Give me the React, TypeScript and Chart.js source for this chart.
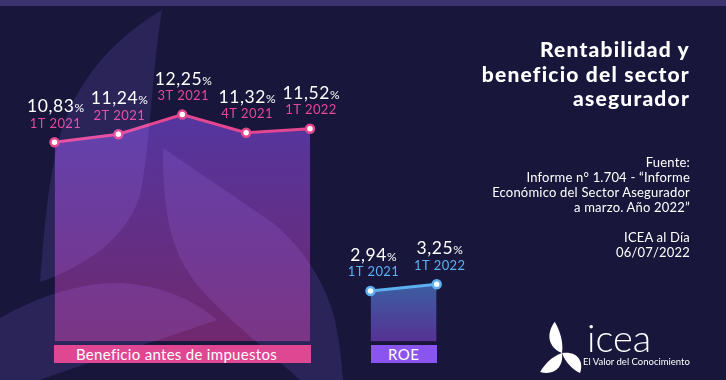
import React, { useEffect, useRef } from "react";
import { Chart, registerables } from "chart.js";

Chart.register(...registerables);

const benefitPeriods = ["1T 2021", "2T 2021", "3T 2021", "4T 2021", "1T 2022"];
const benefitValues = [10.83, 11.24, 12.25, 11.32, 11.52];
const roePeriods = ["1T 2021", "1T 2022"];
const roeValues = [2.94, 3.25];
const benefitLabel = "Beneficio antes de impuestos";
const roeLabel = "ROE";
const titleLines = ["Rentabilidad y", "beneficio del sector", "asegurador"];
const sourceLines = [
  "Fuente:",
  "Informe n° 1.704 - “Informe",
  "Económico del Sector Asegurador",
  "a marzo. Año 2022”",
];
const footerLines = ["ICEA al Día", "06/07/2022"];
const logoWord = "icea";
const logoTagline = "El Valor del Conocimiento";

const FONT = "Lato, 'Open Sans', sans-serif";
const BG = "#18163a";

const valueLabels = {
  id: "valueLabels",
  afterDatasetsDraw(chart: any, _args: any, opts: any) {
    const ctx = chart.ctx as CanvasRenderingContext2D;
    const meta = chart.getDatasetMeta(0);
    const ds = chart.data.datasets[0];
    const labels = chart.data.labels as string[];
    meta.data.forEach((pt: any, i: number) => {
      const v = ds.data[i] as number;
      const num = v.toFixed(2).replace(".", ",");
      ctx.save();
      ctx.textBaseline = "alphabetic";
      ctx.textAlign = "left";
      (ctx as any).letterSpacing = "0.6px";
      ctx.font = `400 17.5px ${FONT}`;
      const w1 = ctx.measureText(num).width;
      (ctx as any).letterSpacing = "0px";
      ctx.font = `400 12px ${FONT}`;
      const w2 = ctx.measureText("%").width;
      const total = w1 + w2;
      const x0 = pt.x - total / 2 + (opts.dx || 0);
      const yNum = pt.y - opts.numOffset;
      ctx.fillStyle = "#ffffff";
      (ctx as any).letterSpacing = "0.6px";
      ctx.font = `400 17.5px ${FONT}`;
      ctx.fillText(num, x0, yNum);
      (ctx as any).letterSpacing = "0px";
      ctx.font = `400 12px ${FONT}`;
      ctx.fillText("%", x0 + w1, yNum);
      (ctx as any).letterSpacing = "0.4px";
      ctx.font = `400 13px ${FONT}`;
      ctx.fillStyle = opts.periodColor;
      ctx.textAlign = "center";
      ctx.fillText(labels[i], pt.x + (opts.dx || 0), pt.y - opts.labelOffset);
      ctx.restore();
    });
  },
};

function buildConfig(p: {
  labels: string[];
  values: number[];
  line: string;
  gradTop: string;
  gradBottom: string;
  padding: { left: number; right: number; top: number; bottom: number };
  min: number;
  max: number;
  periodColor: string;
  dx: number;
}): any {
  return {
    type: "line",
    data: {
      labels: p.labels,
      datasets: [
        {
          data: p.values,
          borderColor: p.line,
          borderWidth: 3,
          tension: 0,
          pointRadius: 4,
          pointBorderWidth: 2.5,
          pointBackgroundColor: "#ffffff",
          pointBorderColor: p.line,
          clip: false,
          fill: "start",
          backgroundColor: (c: any) => {
            const chart = c.chart;
            const a = chart.chartArea;
            if (!a) return p.gradTop;
            const topY = chart.scales.y.getPixelForValue(Math.max(...p.values));
            const g = chart.ctx.createLinearGradient(0, topY, 0, a.bottom);
            g.addColorStop(0, p.gradTop);
            g.addColorStop(1, p.gradBottom);
            return g;
          },
        },
      ],
    },
    options: {
      responsive: false,
      animation: false,
      events: [],
      layout: { padding: p.padding },
      scales: {
        x: { display: false, offset: false },
        y: { display: false, min: p.min, max: p.max },
      },
      plugins: {
        legend: { display: false },
        tooltip: { enabled: false },
        valueLabels: {
          numOffset: 30,
          labelOffset: 14.5,
          periodColor: p.periodColor,
          dx: p.dx,
        },
      },
    },
    plugins: [valueLabels],
  };
}

export default function App() {
  const c1 = useRef<HTMLCanvasElement>(null);
  const c2 = useRef<HTMLCanvasElement>(null);

  useEffect(() => {
    const ch1 = new Chart(
      c1.current!,
      buildConfig({
        labels: benefitPeriods,
        values: benefitValues,
        line: "#e4468f",
        gradTop: "rgb(84,54,160)",
        gradBottom: "rgb(112,40,110)",
        padding: { left: 54.5, right: 416, top: 100, bottom: 38.5 },
        min: 0.6,
        max: 13.0,
        periodColor: "#e8479a",
        dx: 1,
      })
    );
    const ch2 = new Chart(
      c2.current!,
      buildConfig({
        labels: roePeriods,
        values: roeValues,
        line: "#5cb0f2",
        gradTop: "rgb(60,94,162)",
        gradBottom: "rgb(86,50,148)",
        padding: { left: 370.5, right: 289.3, top: 240, bottom: 38.5 },
        min: 0.6,
        max: 5.3,
        periodColor: "#5cb0f2",
        dx: 3,
      })
    );
    return () => {
      ch1.destroy();
      ch2.destroy();
    };
  }, []);

  const abs: React.CSSProperties = { position: "absolute" };
  const canvasStyle: React.CSSProperties = {
    position: "absolute",
    left: 0,
    top: 0,
    width: 726,
    height: 380,
  };

  return (
    <div
      style={{
        position: "fixed",
        left: 0,
        top: 0,
        width: 726,
        height: 380,
        overflow: "hidden",
        background: BG,
        fontFamily: FONT,
        color: "#ffffff",
      }}
    >
      <canvas ref={c1} width={726} height={380} style={canvasStyle} />
      <canvas ref={c2} width={726} height={380} style={canvasStyle} />

      <svg
        width={726}
        height={380}
        style={{ ...abs, left: 0, top: 0, mixBlendMode: "screen" }}
      >
        <g fill="rgb(20,15,40)">
          <path d="M162,10 C152,70 150,150 140,195 C128,235 90,265 40,282 C44,230 48,180 60,135 C75,85 110,40 162,10 Z" />
          <path d="M163,148 L273,223 C300,245 325,280 335,320 C340,345 342,365 343,380 L300,380 C250,335 210,305 190,275 C170,245 163,210 163,148 Z" />
          <path d="M0,318 C40,295 85,282 120,283 C160,285 195,300 217,320 C175,335 110,355 40,380 L0,380 Z" />
        </g>
      </svg>
      <div style={{ ...abs, left: 0, top: 0, width: 726, height: 6, background: "#3a336e" }} />

      <div
        style={{
          ...abs,
          left: 54,
          top: 345,
          width: 257,
          height: 18,
          background: "#df4793",
          fontSize: 15,
          lineHeight: "18px",
          textAlign: "center",
          paddingRight: 12,
          boxSizing: "border-box",
          letterSpacing: 0.3,
        }}
      >
        {benefitLabel}
      </div>
      <div
        style={{
          ...abs,
          left: 370.5,
          top: 345,
          width: 66.5,
          height: 18,
          background: "#8a55ee",
          fontSize: 15,
          lineHeight: "18px",
          textAlign: "center",
          letterSpacing: 0.5,
        }}
      >
        {roeLabel}
      </div>

      <div
        style={{
          ...abs,
          right: 36,
          top: 37,
          textAlign: "right",
          fontSize: 21,
          fontWeight: 900,
          lineHeight: "24.5px",
          letterSpacing: 1.2,
          whiteSpace: "nowrap",
        }}
      >
        {titleLines.map((t) => (
          <div key={t}>{t}</div>
        ))}
      </div>

      <div
        style={{
          ...abs,
          right: 36,
          top: 154.5,
          textAlign: "right",
          fontSize: 13,
          lineHeight: "15px",
          letterSpacing: 0.2,
          whiteSpace: "nowrap",
        }}
      >
        {sourceLines.map((t) => (
          <div key={t}>{t}</div>
        ))}
      </div>

      <div
        style={{
          ...abs,
          right: 36,
          top: 229.5,
          textAlign: "right",
          fontSize: 13,
          lineHeight: "15px",
          letterSpacing: 0.2,
          whiteSpace: "nowrap",
        }}
      >
        {footerLines.map((t) => (
          <div key={t}>{t}</div>
        ))}
      </div>

      <svg width={60} height={70} style={{ ...abs, left: 530, top: 310 }}>
        <g transform="translate(32,43)" fill="#ffffff">
          <path transform="rotate(-13)" d="M0,0 C-12,-8 -12,-22 0,-32 C3,-22 4,-10 0,0 Z" />
          <path transform="rotate(-131)" d="M0,0 C-12,-8 -12,-21 0,-29 C3,-21 4,-10 0,0 Z" />
          <path transform="rotate(138)" d="M0,0 C-12,-8 -12,-20 0,-27 C3,-20 4,-10 0,0 Z" />
        </g>
      </svg>
      <div
        style={{
          ...abs,
          left: 587,
          top: 315,
          fontSize: 38,
          fontWeight: 300,
          lineHeight: "44px",
        }}
      >
        {logoWord}
      </div>
      <div
        style={{
          ...abs,
          left: 583,
          top: 356,
          fontSize: 9.5,
          lineHeight: "11px",
          whiteSpace: "nowrap",
        }}
      >
        {logoTagline}
      </div>
    </div>
  );
}
